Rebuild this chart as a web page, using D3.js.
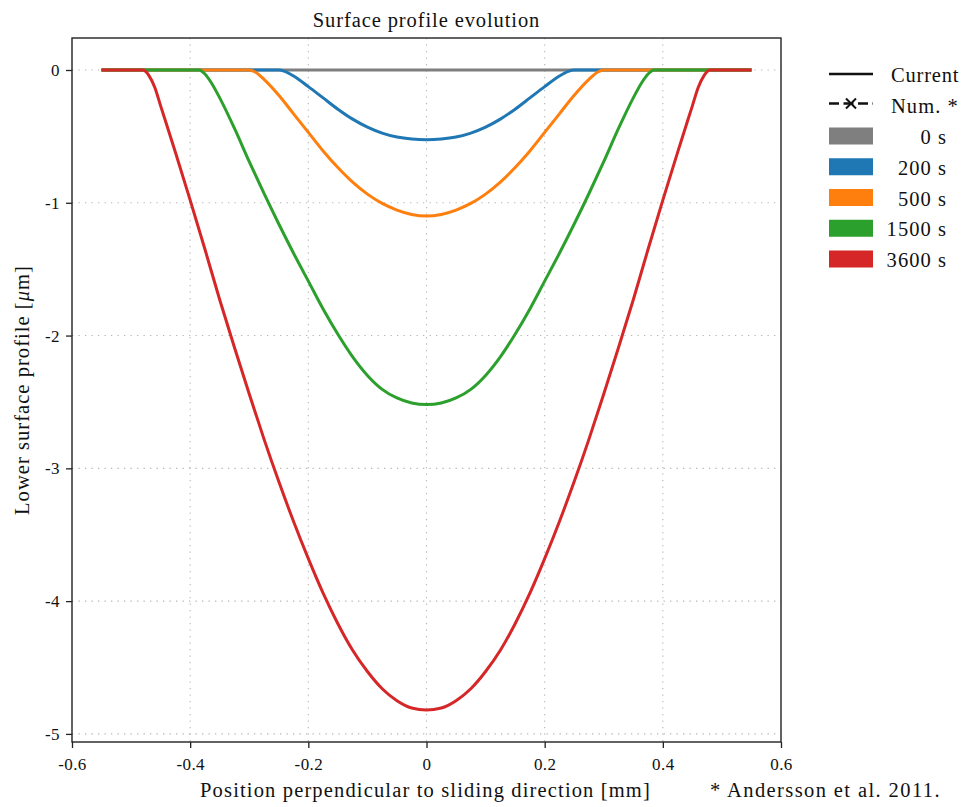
<!DOCTYPE html>
<html>
<head>
<meta charset="utf-8">
<script src="https://cdn.jsdelivr.net/npm/d3@7"></script>
<style>
  html, body { margin: 0; padding: 0; background: #fff; }
  svg { display: block; }
  svg text { font-family: "Liberation Serif", "Times New Roman", serif !important; fill: #111; }
</style>
</head>
<body>
<svg id="chart" width="971" height="807"></svg>
<script>
// Surface profile (depth in µm) across the wear track, per sliding time.
const seriesLabels = ["0 s", "200 s", "500 s", "1500 s", "3600 s"];
const seriesColors = ["#7f7f7f", "#1f77b4", "#ff7f0e", "#2ca02c", "#d62728"];

const pos0 = [-0.55, 0.55];
const depth0 = [0, 0];

const pos200 = [-0.55, -0.26, -0.25, -0.24, -0.225, -0.2, -0.175, -0.15, -0.125, -0.1, -0.075, -0.05, -0.025, 0,
                0.025, 0.05, 0.075, 0.1, 0.125, 0.15, 0.175, 0.2, 0.225, 0.24, 0.25, 0.26, 0.55];
const depth200 = [0, 0, 0, -0.01, -0.045, -0.125, -0.21, -0.295, -0.37, -0.43, -0.475, -0.505, -0.52, -0.525,
                  -0.52, -0.505, -0.475, -0.43, -0.37, -0.295, -0.21, -0.125, -0.045, -0.01, 0, 0, 0];

const pos500 = [-0.55, -0.31, -0.3, -0.29, -0.275, -0.25, -0.225, -0.2, -0.175, -0.15, -0.125, -0.1, -0.075, -0.05, -0.025, 0,
                0.025, 0.05, 0.075, 0.1, 0.125, 0.15, 0.175, 0.2, 0.225, 0.25, 0.275, 0.29, 0.3, 0.31, 0.55];
const depth500 = [0, 0, 0, -0.015, -0.07, -0.19, -0.33, -0.47, -0.61, -0.735, -0.845, -0.935, -1.005, -1.055, -1.088, -1.10,
                  -1.088, -1.055, -1.005, -0.935, -0.845, -0.735, -0.61, -0.47, -0.33, -0.19, -0.07, -0.015, 0, 0, 0];

const pos1500 = [-0.55, -0.395, -0.385, -0.375, -0.365, -0.35, -0.325, -0.3, -0.275, -0.25, -0.225, -0.2, -0.175, -0.15, -0.125, -0.1, -0.075, -0.05, -0.025, 0,
                 0.025, 0.05, 0.075, 0.1, 0.125, 0.15, 0.175, 0.2, 0.225, 0.25, 0.275, 0.3, 0.325, 0.35, 0.365, 0.375, 0.385, 0.395, 0.55];
const depth1500 = [0, 0, 0, -0.03, -0.09, -0.21, -0.44, -0.69, -0.93, -1.16, -1.38, -1.59, -1.80, -1.99, -2.16, -2.30, -2.405, -2.47, -2.508, -2.52,
                   -2.508, -2.47, -2.405, -2.30, -2.16, -1.99, -1.80, -1.59, -1.38, -1.16, -0.93, -0.69, -0.44, -0.21, -0.09, -0.03, 0, 0, 0];

const pos3600 = [-0.55, -0.49, -0.48, -0.47, -0.46, -0.45, -0.425, -0.4, -0.375, -0.35, -0.325, -0.3, -0.275, -0.25, -0.225, -0.2, -0.175, -0.15, -0.125, -0.1, -0.075, -0.05, -0.025, 0,
                 0.025, 0.05, 0.075, 0.1, 0.125, 0.15, 0.175, 0.2, 0.225, 0.25, 0.275, 0.3, 0.325, 0.35, 0.375, 0.4, 0.425, 0.45, 0.46, 0.47, 0.48, 0.49, 0.55];
const depth3600 = [0, 0, 0, -0.04, -0.13, -0.27, -0.62, -0.98, -1.35, -1.73, -2.09, -2.44, -2.78, -3.10, -3.40, -3.68, -3.94, -4.17, -4.37, -4.53, -4.66, -4.75, -4.805, -4.82,
                   -4.805, -4.75, -4.66, -4.53, -4.37, -4.17, -3.94, -3.68, -3.40, -3.10, -2.78, -2.44, -2.09, -1.73, -1.35, -0.98, -0.62, -0.27, -0.13, -0.04, 0, 0, 0];

const xTicks = [-0.6, -0.4, -0.2, 0, 0.2, 0.4, 0.6];
const xTickLabels = ["-0.6", "-0.4", "-0.2", "0", "0.2", "0.4", "0.6"];
const yTicks = [0, -1, -2, -3, -4, -5];
const yTickLabels = ["0", "-1", "-2", "-3", "-4", "-5"];

const positions = [pos0, pos200, pos500, pos1500, pos3600];
const depths = [depth0, depth200, depth500, depth1500, depth3600];
const series = seriesLabels.map((label, i) => ({
  label, color: seriesColors[i],
  points: positions[i].map((p, j) => [p, depths[i][j]])
}));

const SERIF = '"Liberation Serif", "Times New Roman", serif';
const svg = d3.select("#chart");
const plot = { left: 72, right: 781, top: 38, bottom: 742 };

const x = d3.scaleLinear().domain([-0.6, 0.6]).range([plot.left, plot.right]);
const y = d3.scaleLinear().domain([-5.061, 0.241]).range([plot.bottom, plot.top]);

// grid
const grid = svg.append("g").attr("stroke", "#b5b5b5").attr("stroke-width", 1.1)
  .attr("stroke-dasharray", "1.3,5.2");
grid.selectAll("line.gx").data(xTicks.slice(1, -1)).join("line")
  .attr("x1", d => x(d)).attr("x2", d => x(d))
  .attr("y1", plot.top).attr("y2", plot.bottom);
grid.selectAll("line.gy").data(yTicks).join("line")
  .attr("x1", plot.left).attr("x2", plot.right)
  .attr("y1", d => y(d)).attr("y2", d => y(d));

// curves
const line = d3.line().x(d => x(d[0])).y(d => y(d[1])).curve(d3.curveMonotoneX);
svg.append("g").selectAll("path").data(series).join("path")
  .attr("d", d => line(d.points))
  .attr("fill", "none")
  .attr("stroke", d => d.color)
  .attr("stroke-width", 3)
  .attr("stroke-linejoin", "round");

// axes
const xAxis = d3.axisBottom(x).tickValues(xTicks).tickFormat((d, i) => xTickLabels[i])
  .tickSize(6).tickPadding(10);
const yAxis = d3.axisLeft(y).tickValues(yTicks).tickFormat((d, i) => yTickLabels[i])
  .tickSize(6).tickPadding(6);

const gx = svg.append("g").attr("transform", `translate(0,${plot.bottom})`).call(xAxis);
const gy = svg.append("g").attr("transform", `translate(${plot.left},0)`).call(yAxis);
[gx, gy].forEach(g => {
  g.attr("font-family", null).attr("font-size", null);
  g.select(".domain").remove();
  g.selectAll(".tick line").attr("stroke", "#222").attr("stroke-width", 1.3);
  g.selectAll(".tick text").style("font-family", SERIF)
    .style("font-size", "17px").attr("fill", "#111").attr("letter-spacing", 0.4);
});

// frame
svg.append("rect")
  .attr("x", plot.left).attr("y", plot.top)
  .attr("width", plot.right - plot.left).attr("height", plot.bottom - plot.top)
  .attr("fill", "none").attr("stroke", "#222").attr("stroke-width", 1.4);

function label(sel) {
  return sel.style("font-family", SERIF).style("font-size", "20.5px").attr("letter-spacing", 1.05);
}

// titles
label(svg.append("text")).attr("x", (plot.left + plot.right) / 2).attr("y", 27)
  .attr("text-anchor", "middle").attr("letter-spacing", 0.9)
  .text("Surface profile evolution");

label(svg.append("text")).attr("x", (plot.left + plot.right) / 2 - 1).attr("y", 797)
  .attr("text-anchor", "middle").attr("letter-spacing", 1.15)
  .text("Position perpendicular to sliding direction [mm]");

const yl = label(svg.append("text"))
  .attr("transform", `translate(29,${(plot.top + plot.bottom) / 2}) rotate(-90)`)
  .attr("text-anchor", "middle");
yl.append("tspan").text("Lower surface profile [");
yl.append("tspan").attr("font-style", "italic").text("μ");
yl.append("tspan").text("m]");

label(svg.append("text")).attr("x", 710).attr("y", 797).attr("letter-spacing", 1.4)
  .text("* Andersson et al. 2011.");

// legend
const lg = svg.append("g");
const hx0 = 829, hx1 = 873, tx = 891;
lg.append("line").attr("x1", hx0).attr("x2", hx1).attr("y1", 74).attr("y2", 74)
  .attr("stroke", "#111").attr("stroke-width", 2.6);
label(lg.append("text")).attr("x", tx).attr("y", 82).attr("letter-spacing", 0.8).text("Current");

lg.append("line").attr("x1", hx0).attr("x2", hx1).attr("y1", 103.5).attr("y2", 103.5)
  .attr("stroke", "#111").attr("stroke-width", 2.6).attr("stroke-dasharray", "10,4.5");
const mk = lg.append("g").attr("transform", "translate(851,103.5)")
  .attr("stroke", "#111").attr("stroke-width", 2);
mk.append("line").attr("x1", -5).attr("y1", -5).attr("x2", 5).attr("y2", 5);
mk.append("line").attr("x1", -5).attr("y1", 5).attr("x2", 5).attr("y2", -5);
label(lg.append("text")).attr("x", tx).attr("y", 113).text("Num. *");

const rowY = d3.scaleLinear().domain([0, 4]).range([127.5, 250.5]);
const rows = lg.selectAll("g.row").data(series).join("g")
  .attr("transform", (d, i) => `translate(0,${rowY(i)})`);
rows.append("rect").attr("x", hx0).attr("y", 0).attr("width", hx1 - hx0).attr("height", 17)
  .attr("fill", d => d.color);
label(rows.append("text")).attr("x", 947).attr("y", 16.5).attr("text-anchor", "end")
  .text(d => d.label);
</script>
</body>
</html>
